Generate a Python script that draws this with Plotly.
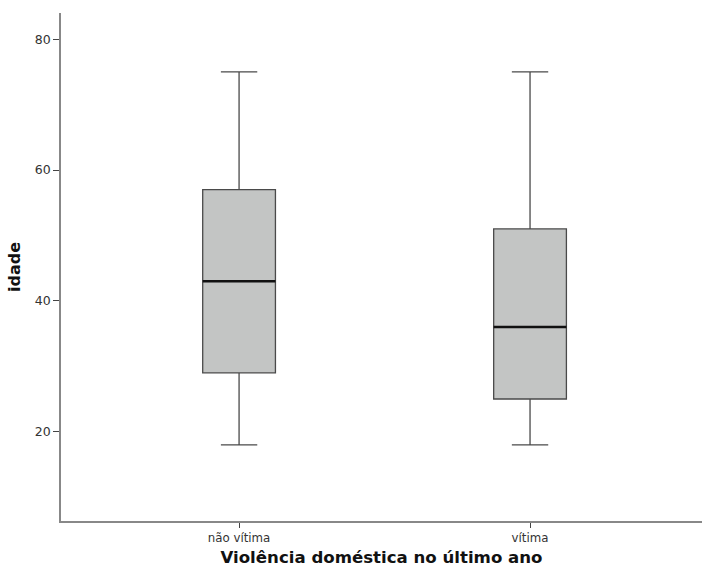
import plotly.graph_objects as go

# Age distribution (idade) by domestic-violence status in the last year
categories = ["não vítima", "vítima"]
lower_whisker = [18, 18]
q1_values = [29, 25]
median_values = [43, 36]
q3_values = [57, 51]
upper_whisker = [75, 75]

positions = list(range(len(categories)))
box_width = 0.25

fig = go.Figure()

for i, name in enumerate(categories):
    fig.add_trace(go.Box(
        x=[positions[i]],
        q1=[q1_values[i]],
        median=[median_values[i]],
        q3=[q3_values[i]],
        lowerfence=[lower_whisker[i]],
        upperfence=[upper_whisker[i]],
        width=box_width,
        whiskerwidth=0.5,
        fillcolor="#c3c5c4",
        line=dict(color="#4a4a4a", width=1.3),
        name=name,
        showlegend=False,
        hoverinfo="skip",
    ))
    # heavier median stroke drawn over the box
    fig.add_trace(go.Scatter(
        x=[positions[i] - box_width / 2, positions[i] + box_width / 2],
        y=[median_values[i], median_values[i]],
        mode="lines",
        line=dict(color="#111111", width=2.6),
        showlegend=False,
        hoverinfo="skip",
    ))

fig.update_layout(
    width=702,
    height=571,
    margin=dict(l=61, r=0, t=13, b=50),
    plot_bgcolor="white",
    paper_bgcolor="white",
    font=dict(family="DejaVu Sans", color="#222222"),
    xaxis=dict(
        range=[-0.612, 1.591],
        tickvals=positions,
        ticktext=categories,
        ticks="outside",
        ticklen=5,
        tickcolor="#444444",
        tickfont=dict(size=11.8, color="#333333"),
        showline=True,
        linecolor="#888888",
        linewidth=1.5,
        showgrid=False,
        zeroline=False,
        title=dict(
            text="<b>Violência doméstica no último ano</b>",
            font=dict(size=16.6, color="#111111"),
            standoff=7,
        ),
    ),
    yaxis=dict(
        range=[6.35, 84.0],
        tickvals=[20, 40, 60, 80],
        ticks="outside",
        ticklen=6,
        tickcolor="#444444",
        tickfont=dict(size=12.5, color="#333333"),
        showline=True,
        linecolor="#888888",
        linewidth=1.5,
        showgrid=False,
        zeroline=False,
        title=dict(
            text="<b>idade</b>",
            font=dict(size=16, color="#111111"),
            standoff=10,
        ),
    ),
)

fig.write_html("out.html")
